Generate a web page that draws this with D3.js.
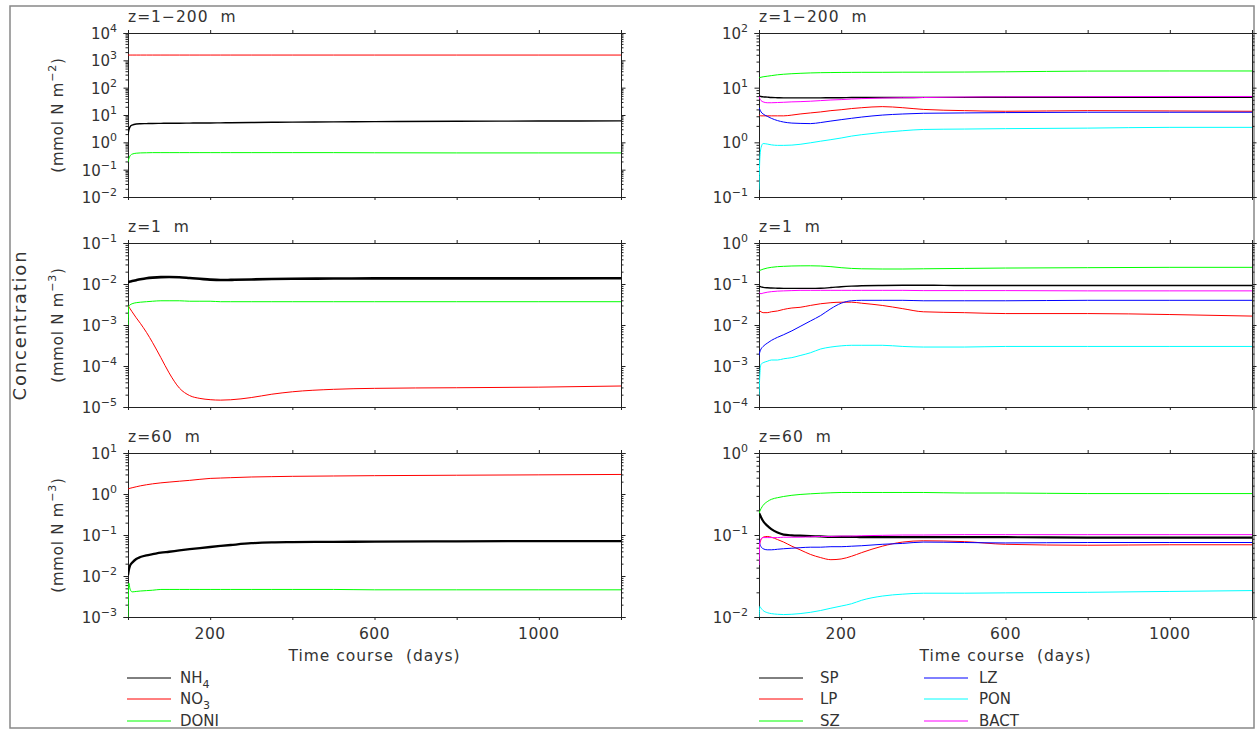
<!DOCTYPE html>
<html>
<head>
<meta charset="utf-8">
<script src="https://cdn.jsdelivr.net/npm/d3@7"></script>
<style>
  body { margin: 0; background: #fff; }
  text { font-family: "DejaVu Sans", sans-serif; fill: #333; white-space: pre; }
</style>
</head>
<body>
<svg id="chart" width="1257" height="730"></svg>
<script>
// time grid (days)
var days = [0,2,5,10,20,30,45,60,80,100,125,150,175,200,225,250,300,350,400,500,600,800,1000,1200];

// left column, z=1-200 m (integrated)
var nh4Int  = [1.9,2.8,3.7,4.3,4.7,4.8,4.85,4.9,4.95,5.0,5.0,5.05,5.1,5.1,5.15,5.2,5.3,5.4,5.5,5.6,5.7,5.9,6.0,6.1];
var no3Int  = [1560,1560,1560,1560,1560,1560,1560,1560,1560,1560,1560,1560,1560,1560,1560,1560,1560,1560,1560,1560,1560,1560,1560,1560];
var doniInt = [0.19,0.25,0.32,0.37,0.40,0.41,0.415,0.42,0.42,0.42,0.42,0.42,0.42,0.42,0.42,0.42,0.42,0.42,0.42,0.42,0.415,0.41,0.41,0.41];
// left column, z=1 m
var nh4Z1  = [0.0110,0.0112,0.0115,0.0118,0.0124,0.0130,0.0138,0.0143,0.0147,0.0148,0.0146,0.0140,0.0134,0.0128,0.0125,0.0126,0.0129,0.0132,0.0134,0.0136,0.0137,0.0137,0.0137,0.0138];
var no3Z1  = [0.0029,0.0028,0.0025,0.0021,0.0015,0.0011,0.00066,0.00037,0.000160,0.000068,0.000029,0.0000190,0.0000162,0.0000151,0.0000147,0.0000150,0.0000170,0.0000205,0.0000235,0.0000270,0.0000285,0.0000295,0.0000305,0.0000325];
var doniZ1 = [0.0010,0.0029,0.0031,0.0033,0.0035,0.0036,0.0037,0.0038,0.0039,0.0039,0.0039,0.0038,0.0038,0.0038,0.0037,0.0037,0.0037,0.0037,0.0037,0.0037,0.0037,0.0037,0.0037,0.0037];
// left column, z=60 m
var nh4Z60  = [0.0105,0.014,0.018,0.021,0.026,0.029,0.032,0.034,0.037,0.039,0.042,0.045,0.048,0.051,0.054,0.057,0.063,0.066,0.067,0.068,0.069,0.070,0.071,0.071];
var no3Z60  = [1.32,1.35,1.38,1.42,1.50,1.58,1.68,1.77,1.87,1.95,2.05,2.15,2.28,2.40,2.45,2.50,2.60,2.65,2.70,2.75,2.80,2.87,2.93,3.0];
var doniZ60 = [0.0010,0.0067,0.0048,0.0041,0.0042,0.0043,0.0044,0.0045,0.0047,0.0047,0.0047,0.0047,0.0047,0.0047,0.0047,0.0047,0.0047,0.0047,0.0047,0.0047,0.0046,0.0046,0.0046,0.0046];

// right column, z=1-200 m
var spInt   = [7.1,7.0,6.9,6.8,6.7,6.6,6.55,6.5,6.5,6.5,6.5,6.5,6.55,6.55,6.6,6.6,6.6,6.6,6.65,6.65,6.7,6.7,6.7,6.7];
var lpInt   = [3.16,3.1,3.05,3.05,3.05,3.05,3.05,3.05,3.15,3.3,3.45,3.6,3.8,3.95,4.15,4.3,4.5,4.3,4.0,3.8,3.7,3.8,3.75,3.7];
var szInt   = [15.2,15.3,15.5,15.8,16.2,16.6,17.2,17.6,18.0,18.3,18.6,18.8,18.9,19.0,19.05,19.1,19.1,19.2,19.2,19.3,19.5,20.1,20.2,20.2];
var lzInt   = [4.3,4.0,3.6,3.3,3.0,2.75,2.5,2.35,2.25,2.22,2.2,2.3,2.45,2.6,2.75,2.9,3.15,3.3,3.4,3.45,3.5,3.55,3.55,3.55];
var ponInt  = [0.135,0.5,0.8,0.95,0.93,0.9,0.88,0.88,0.89,0.92,0.98,1.05,1.12,1.2,1.3,1.38,1.52,1.63,1.72,1.75,1.78,1.82,1.88,1.88];
var bactInt = [6.9,6.3,5.8,5.5,5.3,5.3,5.35,5.4,5.5,5.55,5.65,5.8,5.95,6.05,6.2,6.3,6.45,6.55,6.6,6.75,6.8,6.85,6.9,6.9];
// right column, z=1 m
var spZ1   = [0.089,0.087,0.085,0.083,0.081,0.080,0.079,0.078,0.078,0.078,0.078,0.079,0.082,0.086,0.089,0.091,0.092,0.093,0.093,0.092,0.092,0.092,0.092,0.092];
var lpZ1   = [0.023,0.022,0.021,0.020,0.020,0.021,0.022,0.024,0.026,0.027,0.030,0.033,0.035,0.036,0.036,0.034,0.030,0.025,0.021,0.020,0.019,0.019,0.018,0.0165];
var szZ1   = [0.21,0.215,0.22,0.23,0.245,0.255,0.265,0.27,0.275,0.277,0.278,0.275,0.265,0.25,0.24,0.235,0.232,0.232,0.235,0.24,0.245,0.25,0.255,0.255];
var lzZ1   = [0.0018,0.0022,0.0026,0.0030,0.0036,0.0042,0.0050,0.0058,0.0072,0.0092,0.0125,0.017,0.025,0.034,0.039,0.040,0.040,0.040,0.039,0.039,0.039,0.040,0.040,0.040];
var ponZ1  = [0.00019,0.0006,0.0011,0.0012,0.0013,0.0014,0.0014,0.0015,0.0016,0.0018,0.0021,0.0026,0.0029,0.0031,0.0032,0.0032,0.0032,0.0030,0.0029,0.0029,0.0030,0.0030,0.0030,0.0030];
var bactZ1 = [0.062,0.059,0.058,0.060,0.063,0.065,0.067,0.068,0.069,0.070,0.070,0.070,0.070,0.070,0.070,0.070,0.070,0.070,0.069,0.069,0.069,0.068,0.068,0.068];
// right column, z=60 m
var spZ60   = [0.185,0.178,0.165,0.148,0.13,0.118,0.107,0.101,0.099,0.098,0.097,0.096,0.095,0.095,0.095,0.094,0.094,0.094,0.094,0.094,0.094,0.093,0.093,0.093];
var lpZ60   = [0.072,0.080,0.088,0.094,0.096,0.094,0.088,0.082,0.073,0.066,0.058,0.053,0.050,0.051,0.055,0.061,0.073,0.082,0.085,0.083,0.077,0.075,0.076,0.076];
var szZ60   = [0.184,0.195,0.21,0.23,0.255,0.272,0.285,0.295,0.305,0.312,0.318,0.323,0.327,0.33,0.33,0.33,0.33,0.33,0.33,0.325,0.325,0.32,0.32,0.32];
var lzZ60   = [0.087,0.078,0.072,0.068,0.066,0.066,0.067,0.068,0.069,0.070,0.071,0.071,0.072,0.072,0.073,0.074,0.077,0.079,0.082,0.081,0.080,0.081,0.081,0.081];
var ponZ60  = [0.0095,0.0134,0.0128,0.012,0.0113,0.011,0.0108,0.0107,0.0108,0.011,0.0114,0.012,0.0128,0.0136,0.0145,0.016,0.018,0.019,0.0195,0.0195,0.0197,0.02,0.0205,0.021];
var bactZ60 = [0.043,0.080,0.090,0.093,0.093,0.093,0.093,0.094,0.094,0.094,0.095,0.096,0.096,0.097,0.097,0.098,0.099,0.100,0.100,0.101,0.101,0.101,0.101,0.101];

var leftNames  = ["NH4","NO3","DONI"];
var rightNames = ["SP","LP","SZ","LZ","PON","BACT"];
var colors = {NH4:"#000", NO3:"#ff0000", DONI:"#00ff00",
              SP:"#000", LP:"#ff0000", SZ:"#00ff00", LZ:"#0000ff", PON:"#00ffff", BACT:"#ff00ff"};
var xTicks = [0,200,400,600,800,1000,1200];
var xLabels = [200,600,1000];

var panels = [
  {col:0, row:0, title:"z=1\u2212200  m", exp:"\u22122", dom:[1e-2,1e4],
   series:[["NH4",nh4Int,1.4],["NO3",no3Int,1],["DONI",doniInt,1]]},
  {col:0, row:1, title:"z=1  m", exp:"\u22123", dom:[1e-5,1e-1],
   series:[["NH4",nh4Z1,2.6],["NO3",no3Z1,1],["DONI",doniZ1,1]]},
  {col:0, row:2, title:"z=60  m", exp:"\u22123", dom:[1e-3,1e1],
   series:[["NH4",nh4Z60,2.3],["NO3",no3Z60,1],["DONI",doniZ60,1]]},
  {col:1, row:0, title:"z=1\u2212200  m", dom:[1e-1,1e2],
   series:[["SP",spInt,1.4],["LP",lpInt,1],["SZ",szInt,1],["LZ",lzInt,1],["PON",ponInt,1],["BACT",bactInt,1]]},
  {col:1, row:1, title:"z=1  m", dom:[1e-4,1e0],
   series:[["SP",spZ1,1.4],["LP",lpZ1,1],["SZ",szZ1,1],["LZ",lzZ1,1],["PON",ponZ1,1],["BACT",bactZ1,1]]},
  {col:1, row:2, title:"z=60  m", dom:[1e-2,1e0],
   series:[["SP",spZ60,2.2],["LP",lpZ60,1],["SZ",szZ60,1],["LZ",lzZ60,1],["PON",ponZ60,1],["BACT",bactZ60,1]]}
];

var svg = d3.select("#chart");
var colX = [128, 759], rowY = [33, 243, 453];
var pw = 493, ph = 164;

// outer frame
svg.append("rect").attr("x",10).attr("y",6).attr("width",1244).attr("height",722)
  .attr("fill","none").attr("stroke","#888").attr("stroke-width",1.5);

panels.forEach(function(p, pi){
  var x0 = colX[p.col], y0 = rowY[p.row];
  var x = d3.scaleLinear().domain([0,1200]).range([x0, x0+pw]);
  var y = d3.scaleLog().domain(p.dom).range([y0+ph, y0]);
  var g = svg.append("g");

  // log ticks, majors at decades, minors 2..9
  var lo = Math.round(Math.log10(p.dom[0])), hi = Math.round(Math.log10(p.dom[1]));
  var majors = [], minors = [];
  for (var e = lo; e <= hi; e++){
    majors.push(Math.pow(10,e));
    if (e < hi) for (var m = 2; m <= 9; m++) minors.push(m*Math.pow(10,e));
  }

  g.append("g").attr("transform","translate("+x0+",0)")
    .call(d3.axisLeft(y).tickValues(minors).tickSize(2.5).tickFormat(""));
  g.append("g").attr("transform","translate("+x0+",0)")
    .call(d3.axisLeft(y).tickValues(majors).tickSize(4.5).tickFormat(""));
  g.append("g").attr("transform","translate("+(x0+pw)+",0)")
    .call(d3.axisRight(y).tickValues(minors).tickSize(2.5).tickFormat(""));
  g.append("g").attr("transform","translate("+(x0+pw)+",0)")
    .call(d3.axisRight(y).tickValues(majors).tickSize(4.5).tickFormat(""));
  g.append("g").attr("transform","translate(0,"+y0+")")
    .call(d3.axisTop(x).tickValues(xTicks).tickSize(3).tickFormat(""));
  g.append("g").attr("transform","translate(0,"+(y0+ph)+")")
    .call(d3.axisBottom(x).tickValues(xTicks).tickSize(3).tickFormat(""));
  g.selectAll(".domain").attr("stroke","#222").attr("stroke-width",1);
  g.selectAll(".tick line").attr("stroke","#222");

  // y tick labels 10^n
  majors.forEach(function(v){
    var ex = Math.round(Math.log10(v));
    var t = g.append("text").attr("x", x0-11).attr("y", y(v)+6)
      .attr("text-anchor","end").style("font-size","15px");
    t.append("tspan").text("10");
    t.append("tspan").attr("dy",-7).style("font-size","11px").text(String(ex).replace("-","\u2212"));
  });

  // title
  g.append("text").attr("x", x0).attr("y", y0-11).style("font-size","15.5px")
    .style("letter-spacing","1px").text(p.title);

  // series
  var clipId = "clip"+pi;
  svg.append("clipPath").attr("id",clipId).append("rect")
    .attr("x",x0).attr("y",y0).attr("width",pw).attr("height",ph);
  var line = d3.line().x(function(d){return x(d[0]);}).y(function(d){return y(d[1]);})
    .curve(d3.curveMonotoneX);
  p.series.forEach(function(s){
    var pts = days.map(function(d,i){return [d, s[1][i]];});
    g.append("path").attr("clip-path","url(#"+clipId+")")
      .attr("d", line(pts)).attr("fill","none")
      .attr("stroke", colors[s[0]]).attr("stroke-width", s[2]);
  });

  // bottom row: x labels and axis title
  if (p.row === 2){
    xLabels.forEach(function(v){
      g.append("text").attr("x", x(v)).attr("y", y0+ph+22).attr("text-anchor","middle")
        .style("font-size","15.5px").style("letter-spacing","0.5px").text(v);
    });
    g.append("text").attr("x", x0+pw/2).attr("y", y0+ph+44).attr("text-anchor","middle")
      .style("font-size","15.5px").style("letter-spacing","1px").text("Time course  (days)");
  }

  // units label on left column
  if (p.col === 0){
    var cy = y0+ph/2;
    var t = g.append("text").attr("transform","translate(63,"+cy+") rotate(-90)")
      .attr("text-anchor","middle").style("font-size","15px").style("letter-spacing","0.8px");
    t.append("tspan").text("(mmol N m");
    t.append("tspan").attr("dy",-7).style("font-size","11px").text(p.exp);
    t.append("tspan").attr("dy",7).text(")");
  }
});

// overall y title
svg.append("text").attr("transform","translate(26,325) rotate(-90)")
  .attr("text-anchor","middle").style("font-size","18px").style("letter-spacing","1.8px")
  .text("Concentration");

// legends
function legendItem(lx, tx, ly, name){
  svg.append("line").attr("x1",lx).attr("x2",lx+44).attr("y1",ly).attr("y2",ly)
    .attr("stroke",colors[name]).attr("stroke-width",1);
  var t = svg.append("text").attr("x", tx).attr("y", ly+5).style("font-size","15px");
  var m = name.match(/^(NH|NO)(\d)$/);
  if (m){
    t.append("tspan").text(m[1]);
    t.append("tspan").attr("dy",5).style("font-size","11px").text(m[2]);
  } else {
    t.text(name);
  }
}
var legY = [678, 699, 721];
leftNames.forEach(function(n,i){ legendItem(127, 180, legY[i], n); });
rightNames.forEach(function(n,i){
  if (i < 3) legendItem(759, 820, legY[i], n);
  else legendItem(924, 979, legY[i-3], n);
});
</script>
</body>
</html>
